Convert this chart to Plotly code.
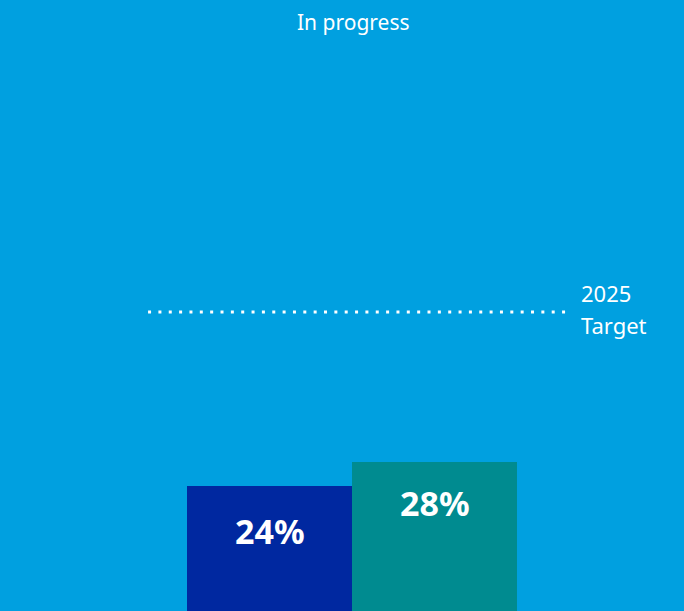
import plotly.graph_objects as go

# data
bar_ids = ["Previous", "Current"]
bar_values = [24, 28]
bar_labels = ["24%", "28%"]
target_value = 53
target_lines = ["2025", "Target"]
title_text = "In progress"

BG = "#00A0E0"
BAR_COLORS = ["#0028A0", "#008B90"]
FONT = "Noto Sans"


def build_figure():
    fig = go.Figure()

    fig.add_trace(go.Bar(
        x=bar_ids,
        y=bar_values,
        width=1,
        marker=dict(color=BAR_COLORS, line=dict(width=0)),
        hoverinfo="skip",
        showlegend=False
    ))

    # dotted target line
    fig.add_shape(
        type="line",
        xref="x", yref="y",
        x0=-0.736, x1=1.80,
        y0=target_value, y1=target_value,
        line=dict(color="white", width=3, dash="3px,7.35px")
    )

    # two-line label, spaced wider than plotly's default line height
    for line_text, shift in zip(target_lines, (19, -13)):
        fig.add_annotation(
            x=1.773, y=target_value,
            xref="x", yref="y",
            text=line_text,
            showarrow=False,
            xanchor="left", yanchor="middle",
            xshift=17, yshift=shift,
            font=dict(family=FONT, size=22, color="white")
        )

    # value labels just inside the bar tops
    for name, value, label, shift in zip(bar_ids, bar_values, bar_labels, (-45, -41)):
        fig.add_annotation(
            x=name, y=value,
            xref="x", yref="y",
            text=f"<b>{label}</b>",
            showarrow=False,
            xanchor="center", yanchor="middle",
            yshift=shift,
            font=dict(family=FONT, size=34, color="white")
        )

    fig.add_annotation(
        x=353 / 684, y=1 - 22 / 611,
        xref="paper", yref="paper",
        text=title_text,
        showarrow=False,
        xanchor="center", yanchor="middle",
        font=dict(family=FONT, size=21, color="white")
    )

    fig.update_layout(
        width=684,
        height=611,
        margin=dict(l=0, r=0, t=0, b=0),
        paper_bgcolor=BG,
        plot_bgcolor=BG,
        bargap=0,
        xaxis=dict(visible=False, range=[-1.6333, 2.512]),
        yaxis=dict(visible=False, range=[3.17, 105]),
    )

    return fig


fig = build_figure()
fig.write_html(
    "out.html",
    config={"displayModeBar": False},
    post_script="document.body.style.margin='0';document.body.style.overflow='hidden';"
)
